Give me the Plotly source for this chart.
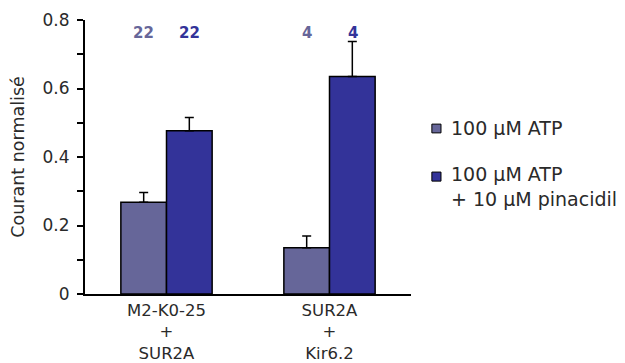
import plotly.graph_objects as go

categories = ["M2-K0-25<br>+<br>SUR2A", "SUR2A<br>+<br>Kir6.2"]
atp_values = [0.268, 0.135]
atp_errors = [0.028, 0.034]
pina_values = [0.477, 0.635]
pina_errors = [0.038, 0.102]
atp_n = ["22", "4"]
pina_n = ["22", "4"]
series_names = ["100 µM ATP", "100 µM ATP<br>+ 10 µM pinacidil"]
ytick_vals = [0, 0.1, 0.2, 0.3, 0.4, 0.5, 0.6, 0.7, 0.8]
ytick_text = ["0", "", "0.2", "", "0.4", "", "0.6", "", "0.8"]

light = "#666699"
dark = "#333399"
FONT = "DejaVu Sans"
TXT = "#2a2a2a"

fig = go.Figure()
x_idx = list(range(len(categories)))
for vals, errs, col, name in [(atp_values, atp_errors, light, series_names[0]),
                              (pina_values, pina_errors, dark, series_names[1])]:
    fig.add_trace(go.Bar(
        x=x_idx, y=vals, name=name,
        marker=dict(color=col, line=dict(color="black", width=1.5)),
        error_y=dict(type="data", array=errs, arrayminus=[0] * len(errs),
                     symmetric=False, color="black", thickness=1.5, width=4.5),
        showlegend=False,
    ))

# n labels
for i in x_idx:
    fig.add_annotation(x=i, y=0.8, yref="y", text="<b>%s</b>" % atp_n[i], showarrow=False,
                       xshift=-23, yshift=-13, font=dict(family=FONT, size=15, color=light))
    fig.add_annotation(x=i, y=0.8, yref="y", text="<b>%s</b>" % pina_n[i], showarrow=False,
                       xshift=23, yshift=-13, font=dict(family=FONT, size=15, color=dark))

# legend (manual)
leg = [(light, series_names[0], 0.620, 0.588, 0.606),
       (dark, series_names[1], 0.445, 0.412, 0.392)]
for col, name, y1, y0, ty in leg:
    fig.add_shape(type="rect", xref="paper", yref="paper", x0=1.064, x1=1.092, y0=y0, y1=y1,
                  fillcolor=col, line=dict(color="black", width=1))
    fig.add_annotation(xref="paper", yref="paper", x=1.116, y=ty, text=name, showarrow=False,
                       xanchor="left", yanchor="middle", align="left",
                       font=dict(family=FONT, size=19, color=TXT))

fig.update_layout(
    width=625, height=363,
    margin=dict(l=85, r=214, t=20, b=69, autoexpand=False),
    plot_bgcolor="white", paper_bgcolor="white",
    barmode="group", bargap=0.44, bargroupgap=0,
    font=dict(family=FONT, color=TXT),
)
fig.update_xaxes(
    range=[-0.5, 1.5], tickvals=x_idx, ticktext=categories, automargin=False,
    showline=True, linecolor="black", linewidth=2, ticks="", showgrid=False,
    zeroline=False, tickfont=dict(family=FONT, size=16.5, color=TXT),
)
fig.update_yaxes(
    range=[0, 0.8], tickvals=ytick_vals, ticktext=ytick_text, automargin=False,
    showline=True, linecolor="black", linewidth=2, ticks="outside", ticklen=6,
    tickcolor="black", tickwidth=1.5, showgrid=False, zeroline=False,
    ticklabelstandoff=4,
    tickfont=dict(family=FONT, size=17, color=TXT),
    title=dict(text="Courant normalisé", font=dict(family=FONT, size=17.5, color=TXT),
               standoff=13),
)

fig.write_html("out.html", config={"displayModeBar": False},
               post_script="document.body.style.margin='0';document.body.style.padding='0';")
